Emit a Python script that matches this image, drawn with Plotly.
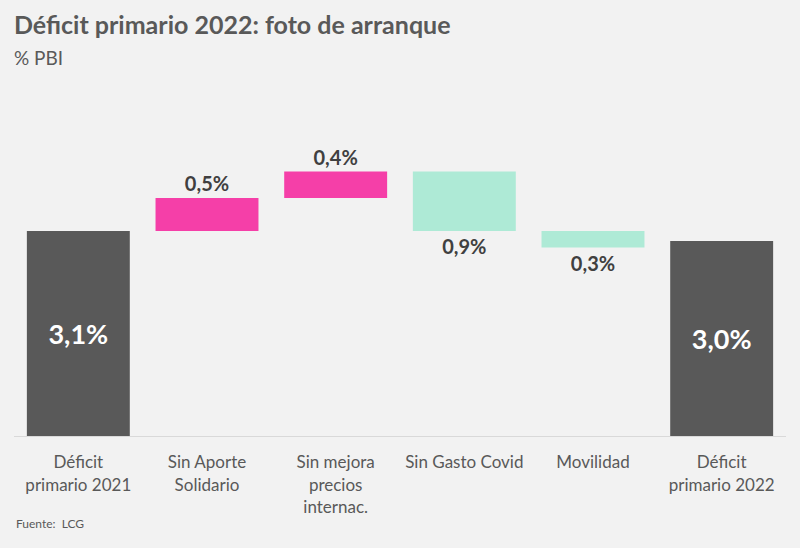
import plotly.graph_objects as go

categories = ["Déficit<br>primario 2021", "Sin Aporte<br>Solidario", "Sin mejora<br>precios<br>internac.",
              "Sin Gasto Covid", "Movilidad", "Déficit<br>primario 2022"]
measures = ["absolute", "relative", "relative", "relative", "relative", "absolute"]
values = [3.1, 0.5, 0.4, -0.9, -0.25, 2.95]
labels = ["3,1%", "0,5%", "0,4%", "0,9%", "0,3%", "3,0%"]
text_pos = ["inside", "outside", "outside", "outside", "outside", "inside"]

FONT = "Lato"

fig = go.Figure(go.Waterfall(
    x=categories,
    measure=measures,
    y=values,
    text=labels,
    textposition=text_pos,
    insidetextanchor="middle",
    insidetextfont=dict(family=FONT, size=27, color="white", weight="bold"),
    outsidetextfont=dict(family=FONT, size=20, color="#404040", weight="bold"),
    cliponaxis=False,
    connector=dict(visible=False),
    increasing=dict(marker=dict(color="#f53fa8")),
    decreasing=dict(marker=dict(color="#aeead6")),
    totals=dict(marker=dict(color="#595959")),
    hoverinfo="skip",
))

fig.update_layout(
    width=800, height=548,
    paper_bgcolor="#f2f2f2", plot_bgcolor="#f2f2f2",
    margin=dict(l=14, r=14, t=100, b=112),
    bargap=0.18,
    showlegend=False,
    font=dict(family=FONT, color="#595959"),
    annotations=[
        dict(text="<b>Déficit primario 2022: foto de arranque</b>", xref="paper", yref="paper",
             x=-0.003, y=1.0, yanchor="bottom", xanchor="left", showarrow=False,
             font=dict(family=FONT, size=25, color="#595959"), yshift=59),
        dict(text="% PBI", xref="paper", yref="paper",
             x=-0.003, y=1.0, yanchor="bottom", xanchor="left", showarrow=False,
             font=dict(family=FONT, size=19, color="#595959"), yshift=29),
        dict(text="Fuente:  LCG", xref="paper", yref="paper",
             x=0.0, y=0, yanchor="top", xanchor="left", showarrow=False,
             font=dict(family=FONT, size=12, color="#595959"), yshift=-78),
    ],
)
fig.update_xaxes(showline=True, linecolor="#d9d9d9", linewidth=1, ticks="",
                 tickfont=dict(family=FONT, size=17, color="#595959"), ticklabelstandoff=11)
fig.update_yaxes(visible=False, range=[0, 336 / 66.1], showgrid=False, zeroline=False)

fig.write_html("out.html", config={"displayModeBar": False},
               post_script="document.body.style.margin='0';document.body.style.background='#f2f2f2';")
